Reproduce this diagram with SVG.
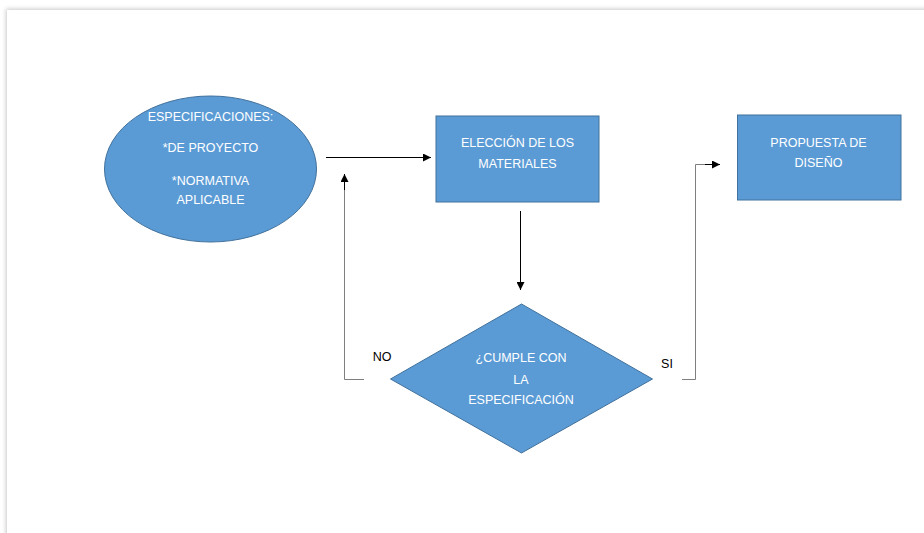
<svg xmlns="http://www.w3.org/2000/svg" width="924" height="533" viewBox="0 0 924 533">
<style>
.shape{fill:#5B9BD5;stroke:#41719C;stroke-width:1}
.wt{fill:#FFFFFF;font-family:"Liberation Sans",Arial,sans-serif;font-size:12.5px;text-anchor:middle}
.bt{fill:#000000;font-family:"Liberation Sans",Arial,sans-serif;font-size:12.5px;text-anchor:middle}
.line{fill:none;stroke:#000000;stroke-width:1}
.elbow{fill:none;stroke:#7F7F7F;stroke-width:1}
</style>
<defs>
<marker id="arr" viewBox="0 0 10 10" refX="10" refY="5" markerWidth="8" markerHeight="8" markerUnits="userSpaceOnUse" orient="auto">
<path d="M0,0 L10,5 L0,10 z" fill="#000000"/>
</marker>
<filter id="sh" x="-5%" y="-5%" width="110%" height="110%">
<feGaussianBlur stdDeviation="2"/>
</filter>
</defs>
<rect x="0" y="0" width="924" height="533" fill="#FFFFFF"/>
<rect x="6" y="9" width="940" height="560" fill="#C8C8C8" filter="url(#sh)"/>
<rect x="7" y="10" width="940" height="560" fill="#FFFFFF"/>
<g id="connectors">
<line class="line" x1="326" y1="157.5" x2="431" y2="157.5" marker-end="url(#arr)"/>
<line class="line" x1="520.5" y1="211" x2="520.5" y2="290" marker-end="url(#arr)"/>
<polyline class="elbow" points="364,379.5 344.5,379.5 344.5,176"/>
<line class="line" x1="344.5" y1="190" x2="344.5" y2="174" marker-end="url(#arr)"/>
<polyline class="elbow" points="682,379.5 695.5,379.5 695.5,164.5 706,164.5"/>
<line class="line" x1="705" y1="164.5" x2="720" y2="164.5" marker-end="url(#arr)"/>
</g>
<g id="especificaciones">
<ellipse class="shape" cx="210.5" cy="169" rx="106" ry="73"/>
<text class="wt" x="210.5" y="121">ESPECIFICACIONES:</text>
<text class="wt" x="210.5" y="152">*DE PROYECTO</text>
<text class="wt" x="210.5" y="185">*NORMATIVA</text>
<text class="wt" x="210.5" y="204">APLICABLE</text>
</g>
<g id="eleccion">
<rect class="shape" x="436" y="116" width="163" height="86"/>
<text class="wt" x="517.5" y="147">ELECCIÓN DE LOS</text>
<text class="wt" x="517.5" y="168">MATERIALES</text>
</g>
<g id="propuesta">
<rect class="shape" x="737.5" y="115" width="163.5" height="85"/>
<text class="wt" x="818.5" y="147">PROPUESTA DE</text>
<text class="wt" x="818.5" y="167">DISEÑO</text>
</g>
<g id="decision">
<polygon class="shape" points="521.5,304 652.5,379 521.5,453 390.5,379"/>
<text class="wt" x="521" y="362">¿CUMPLE CON</text>
<text class="wt" x="521" y="384">LA</text>
<text class="wt" x="521" y="404">ESPECIFICACIÓN</text>
</g>
<g id="labels">
<text class="bt" x="382" y="361">NO</text>
<text class="bt" x="667" y="368">SI</text>
</g>
</svg>
